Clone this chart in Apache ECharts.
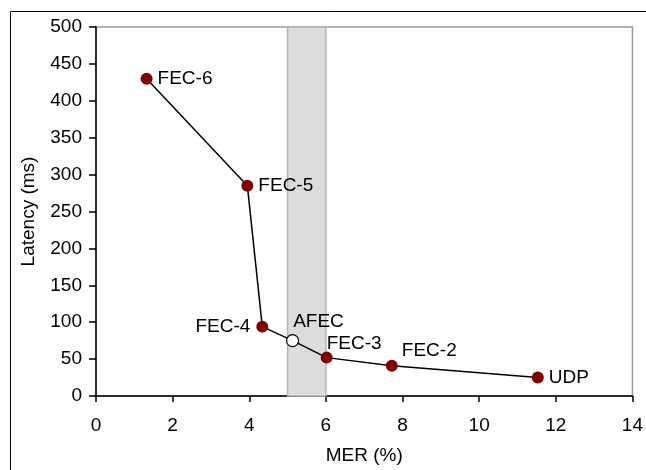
<!DOCTYPE html>
<html>
<head>
<meta charset="utf-8">
<script src="https://cdn.jsdelivr.net/npm/echarts@6/dist/echarts.min.js"></script>
<style>
  html, body { margin: 0; padding: 0; background: #fff; }
  #chart { width: 646px; height: 470px; }
</style>
</head>
<body>
<div id="chart"></div>
<script>
  var names = ['FEC-6', 'FEC-5', 'FEC-4', 'AFEC', 'FEC-3', 'FEC-2', 'UDP']
  var mer = [1.32, 3.95, 4.34, 5.13, 6.02, 7.72, 11.53]
  var latency = [430, 285, 94, 75, 52, 41, 25]
  var band = [5, 6]

  // label placement per point (all relative to 'right' position)
  var labelOffsets = {
    'FEC-6': [0, 0],
    'FEC-5': [0, 0],
    'FEC-4': null,
    'AFEC': [-11, -19],
    'FEC-3': [-11, -14],
    'FEC-2': [-1, -15],
    'UDP': [0, 0]
  }

  var font = 'Liberation Sans, Arial, sans-serif'
  var fs = 19
  var chart = echarts.init(document.getElementById('chart'))

  var points = names.map(function (n, i) {
    var d = {
      name: n,
      value: [mer[i], latency[i]]
    }
    if (n === 'AFEC') {
      d.itemStyle = { color: '#ffffff', borderColor: '#000', borderWidth: 1.2 }
    }
    if (labelOffsets[n] === null) {
      d.label = { position: 'left', distance: 6 }
    } else {
      d.label = { position: 'right', distance: 5, offset: labelOffsets[n] }
    }
    return d
  })

  chart.setOption({
    animation: false,
    grid: {
      left: 96,
      top: 27,
      right: 13,
      bottom: 73,
      show: true,
      borderColor: '#999999',
      borderWidth: 1.5,
      backgroundColor: 'transparent'
    },
    graphic: [{
      type: 'rect',
      shape: { x: 10.5, y: 11.5, width: 700, height: 600 },
      style: { fill: 'none', stroke: '#000', lineWidth: 1 },
      silent: true,
      z: -1
    }],
    xAxis: {
      type: 'value',
      min: 0,
      max: 14,
      interval: 2,
      name: 'MER (%)',
      nameLocation: 'middle',
      nameGap: 50,
      nameTextStyle: { color: '#000', fontSize: fs, fontFamily: font },
      axisLine: { lineStyle: { color: '#000', width: 1.5 } },
      axisTick: { show: true, length: 6, lineStyle: { color: '#000', width: 1.5 } },
      axisLabel: { color: '#000', fontSize: fs, fontFamily: font, margin: 20 },
      splitLine: { show: false }
    },
    yAxis: {
      type: 'value',
      min: 0,
      max: 500,
      interval: 50,
      name: 'Latency (ms)',
      nameLocation: 'middle',
      nameGap: 58,
      nameTextStyle: { color: '#000', fontSize: fs, fontFamily: font },
      axisLine: { show: true, lineStyle: { color: '#000', width: 1.5 } },
      axisTick: { show: true, length: 7, lineStyle: { color: '#000', width: 1.5 } },
      axisLabel: { color: '#000', fontSize: fs, fontFamily: font, margin: 14 },
      splitLine: { show: false }
    },
    series: [{
      type: 'line',
      data: points,
      symbol: 'circle',
      symbolSize: 12,
      itemStyle: { color: '#800000' },
      lineStyle: { color: '#000', width: 1.5 },
      label: {
        show: true,
        formatter: '{b}',
        color: '#000',
        fontSize: fs,
        fontFamily: font
      },
      z: 3,
      markArea: {
        silent: true,
        itemStyle: { color: '#dcdcdc', borderColor: '#b4b4b4', borderWidth: 1.5 },
        data: [[{ xAxis: band[0] }, { xAxis: band[1] }]]
      }
    }]
  })
</script>
</body>
</html>
